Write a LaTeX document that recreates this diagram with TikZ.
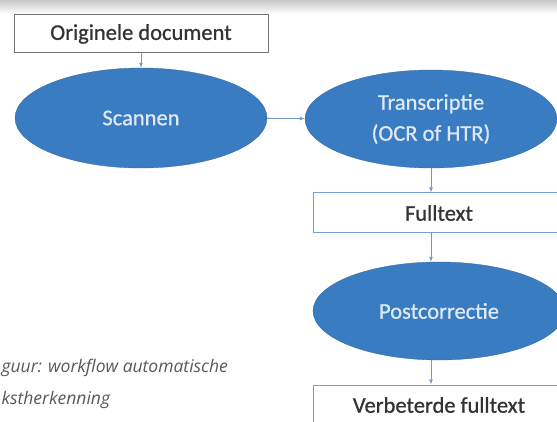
\documentclass[tikz,border=0pt]{standalone}
\usepackage{fontspec}
\setmainfont{Carlito}
\newfontfamily\heavyfont{Carlito}[FakeBold=0.8]
\newfontfamily\capfont{Open Sans}
\usetikzlibrary{arrows.meta,shapes.geometric,calc}

\definecolor{flowblue}{RGB}{58,124,194}
\definecolor{boxline}{RGB}{112,160,214}
\definecolor{arrowc}{RGB}{118,152,198}
\definecolor{eltext}{RGB}{222,233,246}

\begin{document}
\begin{tikzpicture}[x=1pt,y=-1pt,->,>=Latex,shorten >=0pt,
    every edge/.style={draw=arrowc,line width=0.9pt,arrows={-Latex[length=5pt,width=4pt]}},
    blob/.style={ellipse,fill=flowblue,draw=flowblue!80!black,line width=0.3pt,
      text=eltext,font=\heavyfont\fontsize{22.5}{31}\selectfont,align=center,inner sep=0pt},
    box/.style={rectangle,draw=boxline,line width=1pt,fill=white,
      text=black!80,font=\heavyfont\fontsize{22.5}{26}\selectfont,inner sep=0pt}]
  \useasboundingbox (0,0) rectangle (557,422);
  \clip (0,0) rectangle (557,422);
  \shade[top color=black!22,bottom color=white] (0,0) rectangle (557,14);

  \node[box,draw=black!55,minimum width=254pt,minimum height=38pt] (1) at (141,34) {Originele document};
  \node[blob,minimum width=252pt,minimum height=100pt] (2) at (141,118) {Scannen};
  \node[blob,minimum width=252pt,minimum height=98pt] (3) at (431,119) {Transcriptie\\(OCR of HTR)};
  \node[box,minimum width=252pt,minimum height=40pt] (4) at (439,213) {Fulltext};
  \node[blob,minimum width=252pt,minimum height=98pt] (5) at (439,311) {Postcorrectie};
  \node[box,minimum width=252pt,minimum height=40pt] (6) at (439,405) {Verbeterde fulltext};

  \path (1) edge (2)
  (2) edge (3)
  (3.south) edge (3.south |- 4.north)
  (3.south |- 4.south) edge (3.south |- 5.north)
  (3.south |- 5.south) edge (3.south |- 6.north);

  \node[anchor=west,text=black!65,align=left,font=\capfont\itshape\fontsize{17.5}{32}\selectfont]
    (cap) at (-2,384) {guur: workflow automatische\\kstherkenning};
\end{tikzpicture}
\end{document}
